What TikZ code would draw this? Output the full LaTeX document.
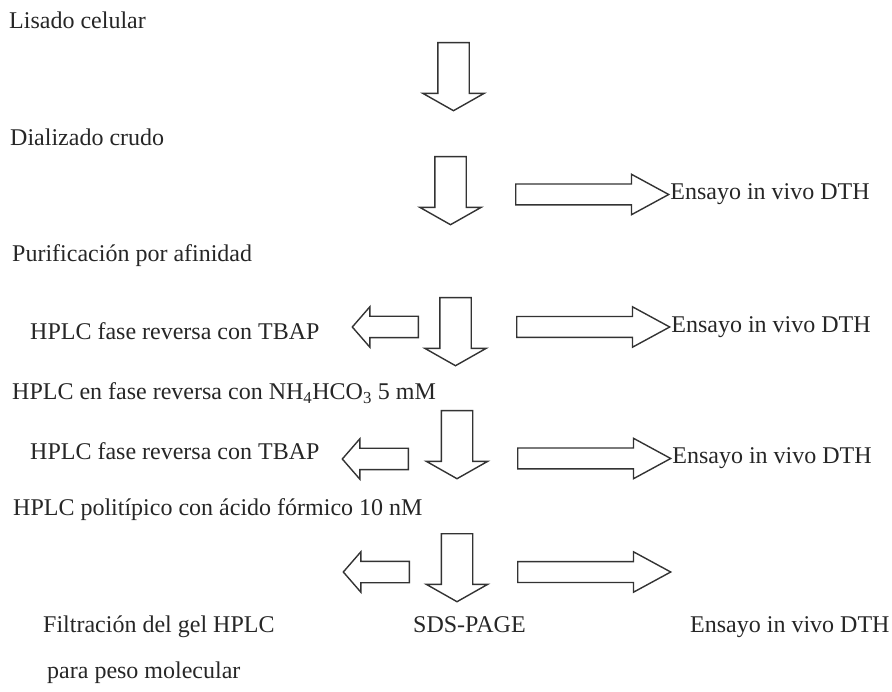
\documentclass[tikz,border=0pt]{standalone}
\usepackage{fontspec}
\setmainfont{Liberation Serif}
\usetikzlibrary{positioning,shapes.arrows}

\begin{document}
\begin{tikzpicture}[
 x=1pt, y=-1pt, node distance=0pt, font=\fontsize{24}{28}\selectfont, text=black!85,
 lbl/.style={inner sep=0pt, anchor=base west},
 blk/.style={draw=black!80, line width=1.4pt, single arrow, single arrow head indent=0pt, minimum width=0pt, inner sep=0pt},
 downarr/.style={blk, shape border rotate=270, inner xsep=15pt, inner ysep=15pt, single arrow head extend=15pt, single arrow tip angle=121, minimum height=68pt, anchor=tail},
 rightarr/.style={blk, inner xsep=9.75pt, inner ysep=9.75pt, single arrow head extend=9.75pt, single arrow tip angle=57, minimum height=153pt, anchor=tail},
 leftarr/.style={blk, shape border rotate=180, inner xsep=10pt, inner ysep=10pt, single arrow head extend=9.5pt, single arrow tip angle=98, minimum height=66pt, anchor=tail}]
\useasboundingbox (0,0) rectangle (892,692);
% main column
\node[lbl] (lis) at (9,29) {Lisado celular};
\node[lbl] (dia) at (10,146) {Dializado crudo};
\node[lbl] (pur) at (12,262) {Purificación por afinidad};
\node[lbl] (tbap1) at (30,340) {HPLC fase reversa con TBAP};
\node[lbl] (nh) at (12,400) {HPLC en fase reversa con NH\textsubscript{4}HCO\textsubscript{3} 5 mM};
\node[lbl] (tbap2) at (30,460) {HPLC fase reversa con TBAP};
\node[lbl] (pol) at (13,515) {HPLC politípico con ácido fórmico 10 nM};
\node[lbl] (fil) at (43,632) {Filtración del gel HPLC};
\node[lbl] (sds) at (413,632) {SDS-PAGE};
\node[lbl] (dth5) at (690,632) {Ensayo in vivo DTH};
\node[lbl] (peso) at (47,678) {para peso molecular};
% block arrows
\node[downarr] (d1) at (453.5,42) {};
\node[downarr] (d2) at (450.5,156) {};
\node[downarr] (d3) at (455.5,297) {};
\node[downarr] (d4) at (457,410) {};
\node[downarr] (d5) at (457,533) {};
\node[rightarr] (r2) at (515,194.5) {};
\node[rightarr] (r3) at (516,327) {};
\node[rightarr] (r4) at (517,458.5) {};
\node[rightarr] (r5) at (517,572) {};
\node[leftarr] (l3) at (419,327) {};
\node[leftarr] (l4) at (409,459) {};
\node[leftarr] (l5) at (410,572) {};
\node[inner sep=0pt, right=of r2.tip] (dth2) {Ensayo in vivo DTH};
\node[inner sep=0pt, right=of r3.tip] (dth3) {Ensayo in vivo DTH};
\node[inner sep=0pt, right=of r4.tip] (dth4) {Ensayo in vivo DTH};
\end{tikzpicture}
\end{document}
